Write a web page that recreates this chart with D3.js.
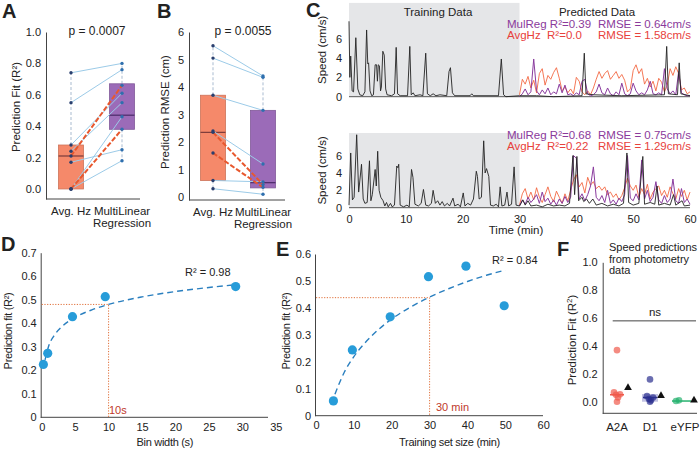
<!DOCTYPE html>
<html><head><meta charset="utf-8">
<script src="https://cdn.jsdelivr.net/npm/d3@7"></script>
<style>
body{margin:0;background:#fff;}
svg{font-family:"Liberation Sans",Arial,sans-serif;}
.ax path,.ax line{stroke:#444;}
.ax text{fill:#222;font-size:11px;font-family:"Liberation Sans",Arial,sans-serif;}
</style></head><body>
<svg id="c" width="700" height="450"></svg>
<script>
// ---------- Panel A data ----------
const aCats = ["Avg. Hz", "MultiLinear\nRegression"];
const aAvg = [0.74, 0.55, 0.28, 0.24, 0.21, 0.17, 0.0, 0.0, 0.0];
const aMul = [0.80, 0.76, 0.61, 0.55, 0.66, 0.25, 0.46, 0.38, 0.18];
const aHighlight = [0, 0, 0, 0, 1, 0, 0, 1, 0];
const aQ1 = [0.0, 0.38], aMed = [0.21, 0.47], aQ3 = [0.28, 0.67], aLo = [0.0, 0.18], aHi = [0.74, 0.80];
const aTicks = [0, 0.2, 0.4, 0.6, 0.8, 1.0];
// ---------- Panel B data ----------
const bCats = ["Avg. Hz", "MultiLinear\nRegression"];
const bAvg = [5.5, 5.05, 3.7, 2.4, 2.35, 1.6, 0.6, 0.3];
const bMul = [4.4, 4.35, 3.15, 1.2, 0.45, 0.35, 0.55, 0.1];
const bHighlight = [0, 0, 0, 0, 1, 1, 0, 0];
const bQ1 = [0.6, 0.33], bMed = [2.35, 0.52], bQ3 = [3.7, 3.15], bLo = [0.3, 0.1], bHi = [5.5, 4.4];
const bTicks = [0, 1, 2, 3, 4, 5, 6];
// ---------- Panel C data ----------
const cTimeTicks = [0, 10, 20, 30, 40, 50, 60];
const cSpeedTicks = [0, 2, 4, 6];
const cTopActual = [[0,7.8],[0.15,2.0],[0.3,4.2],[0.55,0.6],[0.8,0.5],[1.2,6.1],[1.55,0.8],[1.9,0.2],[2.4,0.1],[2.8,0.5],[3.1,6.9],[3.3,3.4],[3.45,3.5],[3.7,0.6],[4.0,0.1],[4.3,0.2],[4.6,3.3],[4.85,3.3],[5.0,1.6],[5.15,3.3],[5.35,3.2],[5.55,0.6],[5.7,1.0],[5.95,4.7],[6.2,4.3],[6.45,0.8],[6.7,0.2],[7.5,0.1],[8.0,0.3],[8.3,5.1],[8.55,0.3],[9.0,0.1],[10.3,0.1],[10.7,5.2],[10.95,0.2],[11.3,0.4],[11.6,0.1],[12.5,0.2],[13.0,0.1],[13.5,4.5],[13.8,0.3],[14.3,0.1],[14.8,0.3],[15.3,0.1],[16.0,0.2],[17.2,0.1],[17.6,2.6],[17.85,3.0],[18.2,0.4],[18.6,0.1],[21.3,0.1],[21.6,0.3],[21.9,0.1],[26.3,0.1],[26.8,3.9],[27.2,0.2],[27.6,0.0],[30.0,0.1],[33.0,0.1],[36.0,0.0],[41.0,0.1],[41.4,4.5],[41.7,0.3],[43.0,0.2],[48.0,0.1],[55.5,0.2],[55.9,5.2],[56.2,0.3],[57.8,0.2],[58.1,3.5],[58.4,0.3],[60.0,0.1]];
const cPredTime = [30,30.5,31,31.5,32,32.5,33,33.5,34,34.5,35,35.5,36,36.5,37,37.5,38,38.5,39,39.5,40,40.5,41,41.5,42,42.5,43,43.5,44,44.5,45,45.5,46,46.5,47,47.5,48,48.5,49,49.5,50,50.5,51,51.5,52,52.5,53,53.5,54,54.5,55,55.5,56,56.5,57,57.5,58,58.5,59,59.5,60];
const cTopAvgHz = [0.2,1.8,1.3,2.1,0.9,1.7,0.4,2.4,2.9,1.2,2.2,1.8,2.5,3.0,1.9,0.6,1.0,0.4,0.8,0.3,2.0,1.6,0.5,0.2,0.6,0.2,0.9,1.8,2.6,1.9,2.4,2.7,1.8,2.2,2.6,1.9,2.3,1.7,0.5,0.8,2.7,3.3,2.4,2.9,1.3,1.9,1.0,1.6,0.6,1.9,1.5,0.5,1.2,2.9,2.2,3.1,2.4,0.7,0.9,0.3,0.5];
const cTopMulReg = [0.0,0.3,0.8,0.2,0.5,3.9,0.6,0.2,0.7,0.3,0.9,0.2,0.5,0.3,1.3,0.4,1.2,0.2,0.3,0.1,0.4,0.2,1.6,1.8,0.3,0.1,0.2,0.5,1.3,0.4,0.2,0.9,0.3,0.1,0.5,0.2,1.4,0.3,0.1,0.3,1.4,0.6,0.2,0.4,0.2,0.7,1.6,0.3,0.2,0.4,0.2,2.9,0.8,0.3,0.6,0.2,2.6,0.4,0.2,0.1,0.1];
const cBotActual = [[0,0.3],[0.3,6.3],[0.6,0.9],[0.9,1.2],[1.35,8.4],[1.7,1.8],[2.2,5.0],[2.5,1.0],[2.8,0.5],[3.2,0.6],[3.6,5.4],[3.85,0.8],[4.1,1.5],[4.6,4.4],[4.8,2.5],[5.05,6.5],[5.3,2.0],[5.6,1.2],[6.0,0.8],[6.3,0.2],[6.6,0.6],[6.9,0.1],[7.3,0.5],[7.6,0.1],[8.0,0.3],[8.4,4.8],[8.6,4.6],[8.75,5.0],[9.0,0.3],[9.6,0.1],[10.2,0.3],[10.6,0.1],[11.0,4.4],[11.25,3.5],[11.6,0.4],[12.2,0.2],[12.7,0.5],[13.1,2.1],[13.5,0.3],[14.0,0.2],[14.5,0.5],[14.8,2.0],[15.2,0.5],[15.6,0.8],[16.0,0.3],[16.4,0.7],[16.8,0.2],[17.3,0.5],[17.7,0.2],[18.3,1.1],[18.6,0.2],[19.2,0.4],[19.6,0.1],[20.1,1.7],[20.4,0.2],[20.9,0.5],[21.4,0.3],[21.9,1.0],[22.4,4.2],[22.6,3.6],[22.9,1.0],[23.3,1.2],[23.7,7.7],[23.95,4.0],[24.2,4.5],[24.6,3.6],[24.9,0.3],[25.4,0.2],[25.9,0.4],[26.3,0.1],[26.6,2.4],[26.9,0.2],[27.4,0.3],[27.8,1.8],[28.1,0.2],[28.6,0.4],[29.05,4.7],[29.4,0.3],[30.0,0.2],[30.6,0.9],[31.0,0.3],[31.5,0.8],[32.0,0.2],[33.0,0.3],[34.0,0.1],[35.0,0.4],[36.0,0.2],[37.0,0.3],[38.0,0.2],[38.8,0.5],[39.4,6.0],[39.7,1.5],[40.1,5.9],[40.4,0.8],[41.0,1.2],[41.3,0.7],[41.8,1.0],[42.3,0.5],[42.9,1.0],[43.5,0.3],[44.5,0.5],[45.5,0.2],[46.5,0.4],[47.5,0.2],[48.3,0.5],[48.9,6.3],[49.2,0.6],[50.0,0.3],[51.0,0.5],[51.7,5.9],[52.0,0.4],[53.0,0.6],[53.8,0.4],[54.2,2.5],[54.5,0.3],[55.5,0.5],[56.5,0.3],[57.1,1.5],[57.5,0.3],[58.6,0.8],[59.0,0.2],[60.0,0.3]];
const cBotAvgHz = [0.3,1.6,2.2,1.0,1.8,0.9,2.3,1.2,0.6,1.5,2.4,1.3,0.7,1.9,1.2,0.5,1.6,0.8,2.0,3.2,3.8,2.4,2.9,1.7,3.5,2.6,3.0,2.2,2.5,2.0,2.4,1.5,1.8,1.2,1.6,0.9,1.4,2.3,3.4,2.5,2.0,2.6,1.2,2.2,1.5,2.7,1.0,1.8,2.2,2.5,1.4,2.0,1.2,2.4,1.6,1.0,2.2,1.3,2.0,0.9,1.8];
const cBotMulReg = [0.2,0.9,0.4,1.2,0.6,1.0,1.5,0.5,1.8,0.7,1.1,0.4,0.9,0.3,1.0,0.5,1.3,0.6,1.2,6.0,5.7,1.0,1.6,0.8,1.5,2.5,4.7,1.2,0.8,1.4,0.6,2.0,0.5,0.9,0.4,1.1,0.7,1.5,6.0,1.1,0.8,1.6,0.9,5.5,1.0,2.0,0.7,1.2,3.0,0.9,0.5,1.4,0.6,1.0,3.3,0.8,0.5,2.2,0.6,1.0,0.4];
// ---------- Panel D data ----------
const dBin = [0.25, 0.9, 4.6, 9.5, 29];
const dFitVal = [0.225, 0.272, 0.428, 0.513, 0.556];
const dCurve = [[0.5,0.244],[1,0.299],[2,0.353],[3,0.385],[5,0.425],[7.5,0.457],[10,0.48],[15,0.512],[20,0.535],[25,0.552],[29,0.564]];
const dXTicks = [0, 5, 10, 15, 20, 25, 30, 35];
const dYTicks = [0, 0.1, 0.2, 0.3, 0.4, 0.5, 0.6, 0.7];
// ---------- Panel E data ----------
const eSize = [4.6, 9.6, 19.6, 29.7, 39.6, 49.7];
const eFitVal = [0.055, 0.244, 0.367, 0.516, 0.555, 0.408];
const eCurve = [[5,0.08],[7.5,0.162],[10,0.219],[15,0.30],[20,0.359],[25,0.403],[30,0.44],[35,0.471],[40,0.498],[45,0.521],[50,0.54]];
const eXTicks = [0, 10, 20, 30, 40, 50, 60];
const eYTicks = [0, 0.1, 0.2, 0.3, 0.4, 0.5, 0.6];
// ---------- Panel F data ----------
const fCats = ["A2A", "D1", "eYFP"];
const fA2A = [0.37, 0.067, 0.053, 0.05, 0.03, 0.0];
const fD1 = [0.16, 0.04, 0.03, 0.02, 0.01, 0.0];
const fEYFP = [0.01, 0.005];
const fMedian = [0.05, 0.03, 0.005];
const fTriangle = [0.10, 0.043, 0.01];
const fTicks = [0, 0.2, 0.4, 0.6, 0.8, 1.0];

const svg = d3.select("#c");
const INK = "#222";
function label(x, y, s, o = {}) {
  const t = svg.append("text").attr("x", x).attr("y", y).text(s)
    .attr("fill", o.fill || INK).attr("font-size", o.size || 11)
    .attr("text-anchor", o.anchor || "start");
  if (o.bold) t.attr("font-weight", "bold");
  if (o.rot) t.attr("transform", `rotate(-90,${x},${y})`);
  if (o.pre) t.style("white-space", "pre");
  if (o.ls) t.attr("letter-spacing", o.ls);
  return t;
}
function panelLetter(x, y, s) { label(x, y, s, { size: 20, bold: true }); }

// ================= Box/paired panels A & B =================
function pairedPanel(o) {
  const g = svg.append("g");
  const x = d3.scalePoint().domain(o.cats).range(o.xr);
  const y = d3.scaleLinear().domain(o.yd).range(o.yr);
  g.append("g").attr("class", "ax").attr("transform", `translate(${o.axX},0)`)
    .call(d3.axisLeft(y).tickValues(o.ticks).tickSize(0).tickPadding(5).tickFormat(o.fmt));
  g.append("line").attr("x1", o.axX).attr("x2", o.axEnd).attr("y1", o.yr[0]).attr("y2", o.yr[0]).attr("stroke", "#444");
  const cols = ["#f5896a", "#9b6bb8"], medc = ["#7a3a3a", "#4a2a68"], w = 25;
  o.cats.forEach((c, i) => {
    const cx = x(c);
    // whiskers
    g.append("line").attr("x1", cx).attr("x2", cx).attr("y1", y(o.q3[i])).attr("y2", y(o.hi[i]))
      .attr("stroke", "#a9bbd0").attr("stroke-dasharray", "3,2");
    g.append("line").attr("x1", cx).attr("x2", cx).attr("y1", y(o.q1[i])).attr("y2", y(o.lo[i]))
      .attr("stroke", "#a9bbd0").attr("stroke-dasharray", "3,2");
    g.append("rect").attr("x", cx - w / 2).attr("width", w).attr("y", y(o.q3[i]))
      .attr("height", y(o.q1[i]) - y(o.q3[i])).attr("fill", cols[i]).attr("stroke", d3.color(cols[i]).darker(0.5)).attr("stroke-width", 0.8);
    g.append("line").attr("x1", cx - w / 2).attr("x2", cx + w / 2).attr("y1", y(o.med[i])).attr("y2", y(o.med[i]))
      .attr("stroke", medc[i]).attr("stroke-width", 1.2);
    c.split("\n").forEach((s, k) => label(cx, o.yr[0] + 16 + k * 12, s, { anchor: "middle", size: 11.5 }));
  });
  const x0 = x(o.cats[0]), x1 = x(o.cats[1]);
  o.a.forEach((v, i) => {
    if (!o.hl[i]) g.append("line").attr("x1", x0).attr("x2", x1).attr("y1", y(v)).attr("y2", y(o.b[i]))
      .attr("stroke", "#9ccbe8").attr("stroke-width", 1);
  });
  o.a.forEach((v, i) => {
    if (o.hl[i]) g.append("line").attr("x1", x0).attr("x2", x1).attr("y1", y(v)).attr("y2", y(o.b[i]))
      .attr("stroke", "#e8582e").attr("stroke-width", 2).attr("stroke-dasharray", "5,2");
  });
  g.selectAll(null).data(o.a).enter().append("circle").attr("cx", x0).attr("cy", d => y(d)).attr("r", 1.7).attr("fill", "#2a3f6e");
  g.selectAll(null).data(o.b).enter().append("circle").attr("cx", x1).attr("cy", d => y(d)).attr("r", 1.7).attr("fill", "#2f6fae");
  label(o.pX, 35, o.p, { anchor: "middle", size: 12 });
  label(o.ylX, o.ylY, o.yl, { anchor: "middle", size: 11.5, rot: true });
}
pairedPanel({ cats: aCats, xr: [71, 122], yd: [-0.064, 1.0], yr: [199, 32], axX: 46, axEnd: 140, ticks: aTicks,
  fmt: d3.format(".1f"), q1: aQ1, q3: aQ3, med: aMed, lo: aLo, hi: aHi, a: aAvg, b: aMul, hl: aHighlight,
  p: "p = 0.0007", pX: 97, yl: "Prediction Fit (R²)", ylX: 20, ylY: 107 });
pairedPanel({ cats: bCats, xr: [213, 263], yd: [-0.11, 6], yr: [200, 32], axX: 189, axEnd: 285, ticks: bTicks,
  fmt: d3.format("d"), q1: bQ1, q3: bQ3, med: bMed, lo: bLo, hi: bHi, a: bAvg, b: bMul, hl: bHighlight,
  p: "p = 0.0055", pX: 243, yl: "Prediction RMSE (cm)", ylX: 169, ylY: 112 });
panelLetter(2, 18, "A");
panelLetter(157, 18, "B");

// ================= Panel C =================
const xC = d3.scaleLinear().domain([0, 60]).range([349, 690]);
function tracePlot(o) {
  const y = d3.scaleLinear().domain([0, o.ymax]).range([o.y0, o.y1]);
  svg.append("rect").attr("x", xC(0)).attr("width", xC(30) - xC(0)).attr("y", y(o.ymax)).attr("height", y(0) - y(o.ymax)).attr("fill", "#e5e6e8");
  const ax = svg.append("g").attr("class", "ax").attr("transform", `translate(${xC(0) - 2},0)`)
    .call(d3.axisLeft(y).tickValues(cSpeedTicks).tickSize(0).tickPadding(5));
  ax.select(".domain").remove();
  ax.selectAll("text").attr("font-size", 11.5);
  svg.append("line").attr("x1", xC(0)).attr("x2", xC(60)).attr("y1", y(0)).attr("y2", y(0)).attr("stroke", "#555");
  const ln = d3.line().x(d => xC(d[0])).y(d => y(d[1]));
  const pred = arr => arr.map((v, i) => [cPredTime[i], v]);
  svg.append("path").attr("d", ln(pred(o.avg))).attr("fill", "none").attr("stroke", "#f2603a").attr("stroke-width", 1).attr("opacity", 0.85);
  svg.append("path").attr("d", ln(pred(o.mul))).attr("fill", "none").attr("stroke", "#8a3b9e").attr("stroke-width", 1);
  svg.append("path").attr("d", ln(o.actual)).attr("fill", "none").attr("stroke", "#222").attr("stroke-width", 0.9);
  label(326, (o.y0 + o.y1) / 2, "Speed (cm/s)", { anchor: "middle", size: 11.5, rot: true });
  label(507, o.ty, o.s1, { fill: "#8b3a9b", size: 11.5, pre: true });
  label(598, o.ty, o.s2, { fill: "#8b3a9b", size: 11.5 });
  label(507, o.ty + 11, o.s3, { fill: "#e8413b", size: 11.5, pre: true });
  label(598, o.ty + 11, o.s4, { fill: "#e8413b", size: 11.5 });
  return y;
}
tracePlot({ ymax: 9.7, y0: 96.7, y1: 2.9, actual: cTopActual, avg: cTopAvgHz, mul: cTopMulReg, ty: 28,
  s1: "MulReg R²=0.39", s2: "RMSE = 0.64cm/s", s3: "AvgHz  R²=0.0", s4: "RMSE = 1.58cm/s" });
const yCb = tracePlot({ ymax: 8.6, y0: 207.7, y1: 133, actual: cBotActual, avg: cBotAvgHz, mul: cBotMulReg, ty: 139,
  s1: "MulReg R²=0.68", s2: "RMSE = 0.75cm/s", s3: "AvgHz  R²=0.22", s4: "RMSE = 1.29cm/s" });
const cx = svg.append("g").attr("class", "ax").attr("transform", `translate(0,${yCb(0)})`)
  .call(d3.axisBottom(xC).tickValues(cTimeTicks).tickSize(0).tickPadding(8));
cx.select(".domain").remove();
cx.selectAll("text").attr("font-size", 11.5);
label(516, 234, "Time (min)", { anchor: "middle", size: 11.5 });
label(438, 16, "Training Data", { anchor: "middle", size: 11.5 });
label(597, 16, "Predicted Data", { anchor: "middle", size: 11.5 });
panelLetter(306, 17, "C");

// ================= Panels D & E =================
function fitPanel(o) {
  const x = d3.scaleLinear().domain(o.xd).range(o.xr);
  const y = d3.scaleLinear().domain(o.yd).range(o.yr);
  const fmt = d => d === 0 ? "0" : d3.format(".1f")(d);
  svg.append("g").attr("class", "ax").attr("transform", `translate(${o.xr[0] - 1},0)`)
    .call(d3.axisLeft(y).tickValues(o.yt).tickSize(0).tickPadding(4).tickFormat(fmt));
  svg.append("g").attr("class", "ax").attr("transform", `translate(0,${o.yr[0]})`)
    .call(d3.axisBottom(x).tickValues(o.xt).tickSize(0).tickPadding(5.5).tickFormat(d3.format("d")))
    .select(".domain").attr("d", `M${o.xr[0] - 1},0H${o.axEnd}`);
  // dotted guide
  svg.append("path").attr("d", `M${o.xr[0]},${y(o.gy)}H${x(o.gx)}V${o.yr[0]}`).attr("fill", "none")
    .attr("stroke", "#e0703a").attr("stroke-width", 1).attr("stroke-dasharray", "1.2,1.5");
  svg.append("path").attr("d", d3.line().x(d => x(d[0])).y(d => y(d[1])).curve(d3.curveMonotoneX)(o.curve))
    .attr("fill", "none").attr("stroke", "#2a7fbf").attr("stroke-width", 1.4).attr("stroke-dasharray", "6,4");
  svg.selectAll(null).data(o.xs).enter().append("circle").attr("cx", d => x(d)).attr("cy", (d, i) => y(o.ys[i]))
    .attr("r", 4.6).attr("fill", "#279cd9");
  label(o.gtX, o.gtY, o.gt, { fill: "#c0392b", size: 11 });
  label(o.rX, o.rY, o.r, { size: 11 });
  label((o.xr[0] + o.axEnd) / 2 + o.xlOff, 446, o.xl, { anchor: "middle", size: 11, ls: -0.3 });
  label(o.ylX, 331, "Prediction fit (R²)", { anchor: "middle", size: 11, rot: true, ls: -0.3 });
}
fitPanel({ xd: [0, 35], xr: [41.7, 275.8], axEnd: 268, yd: [0, 0.7], yr: [417.3, 252.7], xt: dXTicks, yt: dYTicks,
  xs: dBin, ys: dFitVal, curve: dCurve, gx: 10, gy: 0.48, gt: "10s", gtX: 109, gtY: 414,
  r: "R² = 0.98", rX: 185, rY: 276, xl: "Bin width (s)", xlOff: 10, ylX: 12 });
fitPanel({ xd: [0, 60], xr: [316, 543.2], axEnd: 543, yd: [0, 0.6], yr: [415.7, 254], xt: eXTicks, yt: eYTicks,
  xs: eSize, ys: eFitVal, curve: eCurve, gx: 30, gy: 0.438, gt: "30 min", gtX: 436, gtY: 411,
  r: "R² = 0.84", rX: 492, rY: 264, xl: "Training set size (min)", xlOff: 20, ylX: 290 });
panelLetter(1, 251, "D");
panelLetter(276, 256, "E");

// ================= Panel F =================
const xF = d3.scalePoint().domain(fCats).range([617, 683]);
const yF = d3.scaleLinear().domain([-0.083, 1.0]).range([413.3, 262.3]);
svg.append("g").attr("class", "ax").attr("transform", "translate(602.7,0)")
  .call(d3.axisLeft(yF).tickValues(fTicks).tickSize(0).tickPadding(5).tickFormat(d3.format(".1f")));
svg.append("line").attr("x1", 602.7).attr("x2", 697).attr("y1", 413.3).attr("y2", 413.3).attr("stroke", "#444");
fCats.forEach(c => label(xF(c) + (c === "eYFP" ? 2 : 0), 431, c, { anchor: "middle", size: 11.5 }));
label(655, 316, "ns", { anchor: "middle", size: 11.5 });
svg.append("line").attr("x1", 612.7).attr("x2", 696).attr("y1", yF(0.58)).attr("y2", yF(0.58)).attr("stroke", "#444");
const jit = [0, -3, 3, -1, 1, 0];
// D1 box
svg.append("rect").attr("x", xF("D1") - 8).attr("width", 16).attr("y", yF(0.055)).attr("height", yF(0.0) - yF(0.055))
  .attr("fill", "#8f90cc").attr("opacity", 0.55);
const groups = [[fA2A, "#f05a4c", "A2A"], [fD1, "#2b2f8e", "D1"], [fEYFP, "#27b26f", "eYFP"]];
groups.forEach(([vals, col, c], gi) => {
  const cxp = xF(c) + (c === "eYFP" ? -4 : 0);
  svg.append("line").attr("x1", cxp - 7).attr("x2", c === "eYFP" ? cxp + 12 : cxp + 7)
    .attr("y1", yF(fMedian[gi])).attr("y2", yF(fMedian[gi])).attr("stroke", col).attr("stroke-width", 1.5);
  svg.selectAll(null).data(vals).enter().append("circle")
    .attr("cx", (d, i) => cxp + jit[i]).attr("cy", d => yF(d)).attr("r", 3.3).attr("fill", col).attr("opacity", 0.7);
  const tx = xF(c) + 11, ty = yF(fTriangle[gi]);
  svg.append("path").attr("d", d3.symbol(d3.symbolTriangle, 26)()).attr("transform", `translate(${tx},${ty})`).attr("fill", "#111");
});
label(609, 250.5, "Speed predictions", { size: 11 });
label(609, 262.5, "from photometry", { size: 11 });
label(609, 274, "data", { size: 11 });
const fyl = svg.append("text").attr("transform", "translate(576,340) rotate(-90)").attr("text-anchor", "middle")
  .attr("font-size", 11.5).attr("fill", INK);
fyl.append("tspan").text("Prediction Fit (R");
fyl.append("tspan").text("2").attr("font-size", 8).attr("dy", -4);
fyl.append("tspan").text(")").attr("dy", 4);
panelLetter(557, 256, "F");
</script>
</body></html>
